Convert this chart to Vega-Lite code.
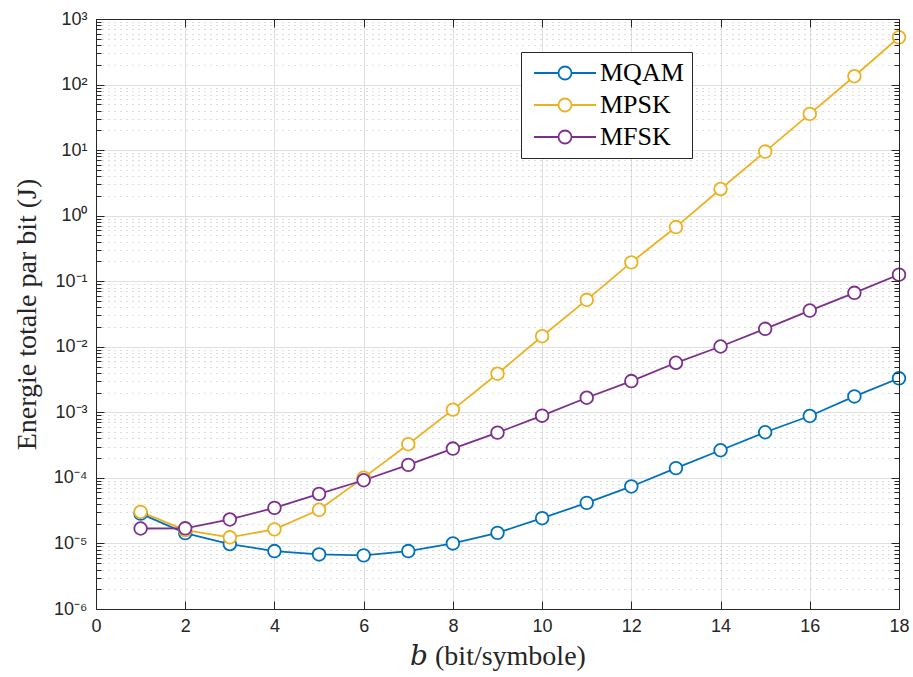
{
  "$schema": "https://vega.github.io/schema/vega-lite/v6.json",
  "width": 803,
  "height": 590,
  "autosize": {"type": "none"},
  "padding": {"left": 96, "top": 19, "right": 14, "bottom": 68},
  "background": "white",
  "config": {
    "view": {"stroke": null},
    "axis": {
      "labelFont": "Liberation Sans",
      "labelFontSize": 18,
      "labelColor": "#262626",
      "titleFont": "Liberation Serif, DejaVu Serif",
      "titleFontSize": 28,
      "titleFontWeight": "normal",
      "titleColor": "#262626",
      "tickColor": "#262626",
      "domainColor": "#262626",
      "domainWidth": 1,
      "tickWidth": 1,
      "gridColor": "#dfdfdf",
      "gridWidth": 1,
      "labelFlush": false,
      "labelOverlap": false
    }
  },
  "data": {
    "values": [
      {"b": 1, "mod": "MQAM", "E": 2.85e-5},
      {"b": 2, "mod": "MQAM", "E": 1.44e-5},
      {"b": 3, "mod": "MQAM", "E": 9.8e-6},
      {"b": 4, "mod": "MQAM", "E": 7.65e-6},
      {"b": 5, "mod": "MQAM", "E": 6.8e-6},
      {"b": 6, "mod": "MQAM", "E": 6.58e-6},
      {"b": 7, "mod": "MQAM", "E": 7.65e-6},
      {"b": 8, "mod": "MQAM", "E": 1.0e-5},
      {"b": 9, "mod": "MQAM", "E": 1.45e-5},
      {"b": 10, "mod": "MQAM", "E": 2.43e-5},
      {"b": 11, "mod": "MQAM", "E": 4.16e-5},
      {"b": 12, "mod": "MQAM", "E": 7.4e-5},
      {"b": 13, "mod": "MQAM", "E": 1.41e-4},
      {"b": 14, "mod": "MQAM", "E": 2.64e-4},
      {"b": 15, "mod": "MQAM", "E": 4.97e-4},
      {"b": 16, "mod": "MQAM", "E": 8.8e-4},
      {"b": 17, "mod": "MQAM", "E": 1.75e-3},
      {"b": 18, "mod": "MQAM", "E": 3.3e-3},
      {"b": 1, "mod": "MPSK", "E": 3.03e-5},
      {"b": 2, "mod": "MPSK", "E": 1.6e-5},
      {"b": 3, "mod": "MPSK", "E": 1.24e-5},
      {"b": 4, "mod": "MPSK", "E": 1.64e-5},
      {"b": 5, "mod": "MPSK", "E": 3.26e-5},
      {"b": 6, "mod": "MPSK", "E": 1.01e-4},
      {"b": 7, "mod": "MPSK", "E": 3.26e-4},
      {"b": 8, "mod": "MPSK", "E": 1.1e-3},
      {"b": 9, "mod": "MPSK", "E": 3.88e-3},
      {"b": 10, "mod": "MPSK", "E": 1.45e-2},
      {"b": 11, "mod": "MPSK", "E": 5.2e-2},
      {"b": 12, "mod": "MPSK", "E": 0.194},
      {"b": 13, "mod": "MPSK", "E": 0.67},
      {"b": 14, "mod": "MPSK", "E": 2.55},
      {"b": 15, "mod": "MPSK", "E": 9.5},
      {"b": 16, "mod": "MPSK", "E": 35.7},
      {"b": 17, "mod": "MPSK", "E": 134},
      {"b": 18, "mod": "MPSK", "E": 526},
      {"b": 1, "mod": "MFSK", "E": 1.69e-5},
      {"b": 2, "mod": "MFSK", "E": 1.7e-5},
      {"b": 3, "mod": "MFSK", "E": 2.32e-5},
      {"b": 4, "mod": "MFSK", "E": 3.49e-5},
      {"b": 5, "mod": "MFSK", "E": 5.7e-5},
      {"b": 6, "mod": "MFSK", "E": 9.2e-5},
      {"b": 7, "mod": "MFSK", "E": 1.58e-4},
      {"b": 8, "mod": "MFSK", "E": 2.8e-4},
      {"b": 9, "mod": "MFSK", "E": 4.9e-4},
      {"b": 10, "mod": "MFSK", "E": 8.9e-4},
      {"b": 11, "mod": "MFSK", "E": 1.67e-3},
      {"b": 12, "mod": "MFSK", "E": 3.0e-3},
      {"b": 13, "mod": "MFSK", "E": 5.7e-3},
      {"b": 14, "mod": "MFSK", "E": 1.01e-2},
      {"b": 15, "mod": "MFSK", "E": 1.88e-2},
      {"b": 16, "mod": "MFSK", "E": 3.57e-2},
      {"b": 17, "mod": "MFSK", "E": 6.65e-2},
      {"b": 18, "mod": "MFSK", "E": 0.126}
    ]
  },
  "layer": [
    {
      "mark": {"type": "line", "strokeWidth": 1.8, "clip": true},
      "encoding": {
        "x": {
          "field": "b", "type": "quantitative",
          "scale": {"domain": [0, 18], "nice": false, "zero": false},
          "axis": {
            "orient": "bottom",
            "values": [0, 2, 4, 6, 8, 10, 12, 14, 16, 18],
            "grid": true, "ticks": false, "domain": false,
            "labelPadding": 8,
            "title": "𝑏 (bit/symbole)",
            "titlePadding": 7,
            "zindex": 0
          }
        },
        "y": {
          "field": "E", "type": "quantitative",
          "scale": {"type": "log", "domain": [1e-6, 1000], "nice": false},
          "axis": {
            "orient": "left",
            "values": [1e-6, 2e-6, 3e-6, 4e-6, 5e-6, 6e-6, 7e-6, 8e-6, 9e-6,
                       1e-5, 2e-5, 3e-5, 4e-5, 5e-5, 6e-5, 7e-5, 8e-5, 9e-5,
                       1e-4, 2e-4, 3e-4, 4e-4, 5e-4, 6e-4, 7e-4, 8e-4, 9e-4,
                       1e-3, 2e-3, 3e-3, 4e-3, 5e-3, 6e-3, 7e-3, 8e-3, 9e-3,
                       0.01, 0.02, 0.03, 0.04, 0.05, 0.06, 0.07, 0.08, 0.09,
                       0.1, 0.2, 0.3, 0.4, 0.5, 0.6, 0.7, 0.8, 0.9,
                       1, 2, 3, 4, 5, 6, 7, 8, 9,
                       10, 20, 30, 40, 50, 60, 70, 80, 90,
                       100, 200, 300, 400, 500, 600, 700, 800, 900, 1000],
            "grid": true,
            "gridDash": {"condition": {"test": "abs(log(datum.value)/LN10 - round(log(datum.value)/LN10)) < 0.001", "value": []}, "value": [1, 5]},
            "gridColor": {"condition": {"test": "abs(log(datum.value)/LN10 - round(log(datum.value)/LN10)) < 0.001", "value": "#dfdfdf"}, "value": "#bdbdbd"},
            "ticks": false, "domain": false,
            "labelPadding": 9,
            "labelExpr": "abs(log(datum.value)/LN10 - round(log(datum.value)/LN10)) < 0.001 ? (round(log(datum.value)/LN10) == 3 ? '10³' : round(log(datum.value)/LN10) == 2 ? '10²' : round(log(datum.value)/LN10) == 1 ? '10¹' : round(log(datum.value)/LN10) == 0 ? '10⁰' : round(log(datum.value)/LN10) == -1 ? '10⁻¹' : round(log(datum.value)/LN10) == -2 ? '10⁻²' : round(log(datum.value)/LN10) == -3 ? '10⁻³' : round(log(datum.value)/LN10) == -4 ? '10⁻⁴' : round(log(datum.value)/LN10) == -5 ? '10⁻⁵' : '10⁻⁶') : ''",
            "title": "Energie totale par bit (J)",
            "titlePadding": 12,
            "zindex": 0
          }
        },
        "color": {
          "field": "mod", "type": "nominal",
          "scale": {"domain": ["MQAM", "MPSK", "MFSK"], "range": ["#0072BD", "#EDB120", "#7E2F8E"]},
          "legend": {
            "title": null,
            "orient": "none",
            "legendX": 425,
            "legendY": 33,
            "symbolType": "M-3,0H-0.63M0.63,0H3M0.63,0A0.63,0.63,0,1,1,-0.63,0A0.63,0.63,0,1,1,0.63,0",
            "symbolSize": 427,
            "symbolStrokeWidth": 1.8,
            "symbolFillColor": "transparent",
            "symbolOffset": 23,
            "labelOffset": 22,
            "labelFont": "Liberation Serif",
            "labelFontSize": 26,
            "labelColor": "#000000",
            "padding": 8,
            "rowPadding": 6,
            "strokeColor": "#262626",
            "fillColor": "white",
            "cornerRadius": 0
          }
        }
      }
    },
    {
      "mark": {"type": "point", "shape": "circle", "filled": false, "fill": "white", "fillOpacity": 1, "size": 160, "strokeWidth": 1.8, "opacity": 1, "clip": false},
      "encoding": {
        "x": {
          "field": "b", "type": "quantitative",
          "axis": {
            "orient": "bottom",
            "values": [0, 2, 4, 6, 8, 10, 12, 14, 16, 18],
            "grid": false, "labels": false, "ticks": true, "tickSize": -8,
            "domain": true, "title": null, "zindex": 1
          }
        },
        "y": {
          "field": "E", "type": "quantitative",
          "axis": {
            "orient": "left",
            "values": [1e-6, 2e-6, 3e-6, 4e-6, 5e-6, 6e-6, 7e-6, 8e-6, 9e-6,
                       1e-5, 2e-5, 3e-5, 4e-5, 5e-5, 6e-5, 7e-5, 8e-5, 9e-5,
                       1e-4, 2e-4, 3e-4, 4e-4, 5e-4, 6e-4, 7e-4, 8e-4, 9e-4,
                       1e-3, 2e-3, 3e-3, 4e-3, 5e-3, 6e-3, 7e-3, 8e-3, 9e-3,
                       0.01, 0.02, 0.03, 0.04, 0.05, 0.06, 0.07, 0.08, 0.09,
                       0.1, 0.2, 0.3, 0.4, 0.5, 0.6, 0.7, 0.8, 0.9,
                       1, 2, 3, 4, 5, 6, 7, 8, 9,
                       10, 20, 30, 40, 50, 60, 70, 80, 90,
                       100, 200, 300, 400, 500, 600, 700, 800, 900, 1000],
            "grid": false, "labels": false, "ticks": true,
            "tickSize": {"condition": {"test": "abs(log(datum.value)/LN10 - round(log(datum.value)/LN10)) < 0.001", "value": -8}, "value": -5},
            "domain": true, "title": null, "zindex": 1
          }
        },
        "color": {"field": "mod", "type": "nominal", "legend": null}
      }
    },
    {
      "mark": {"type": "point", "opacity": 0},
      "encoding": {
        "x": {
          "field": "b", "type": "quantitative",
          "axis": {
            "orient": "top",
            "values": [0, 2, 4, 6, 8, 10, 12, 14, 16, 18],
            "grid": false, "labels": false, "ticks": true, "tickSize": -8,
            "domain": true, "title": null, "zindex": 1
          }
        },
        "y": {
          "field": "E", "type": "quantitative",
          "axis": {
            "orient": "right",
            "values": [1e-6, 2e-6, 3e-6, 4e-6, 5e-6, 6e-6, 7e-6, 8e-6, 9e-6,
                       1e-5, 2e-5, 3e-5, 4e-5, 5e-5, 6e-5, 7e-5, 8e-5, 9e-5,
                       1e-4, 2e-4, 3e-4, 4e-4, 5e-4, 6e-4, 7e-4, 8e-4, 9e-4,
                       1e-3, 2e-3, 3e-3, 4e-3, 5e-3, 6e-3, 7e-3, 8e-3, 9e-3,
                       0.01, 0.02, 0.03, 0.04, 0.05, 0.06, 0.07, 0.08, 0.09,
                       0.1, 0.2, 0.3, 0.4, 0.5, 0.6, 0.7, 0.8, 0.9,
                       1, 2, 3, 4, 5, 6, 7, 8, 9,
                       10, 20, 30, 40, 50, 60, 70, 80, 90,
                       100, 200, 300, 400, 500, 600, 700, 800, 900, 1000],
            "grid": false, "labels": false, "ticks": true,
            "tickSize": {"condition": {"test": "abs(log(datum.value)/LN10 - round(log(datum.value)/LN10)) < 0.001", "value": -8}, "value": -5},
            "domain": true, "title": null, "zindex": 1
          }
        }
      }
    }
  ],
  "resolve": {"axis": {"x": "independent", "y": "independent"}}
}
